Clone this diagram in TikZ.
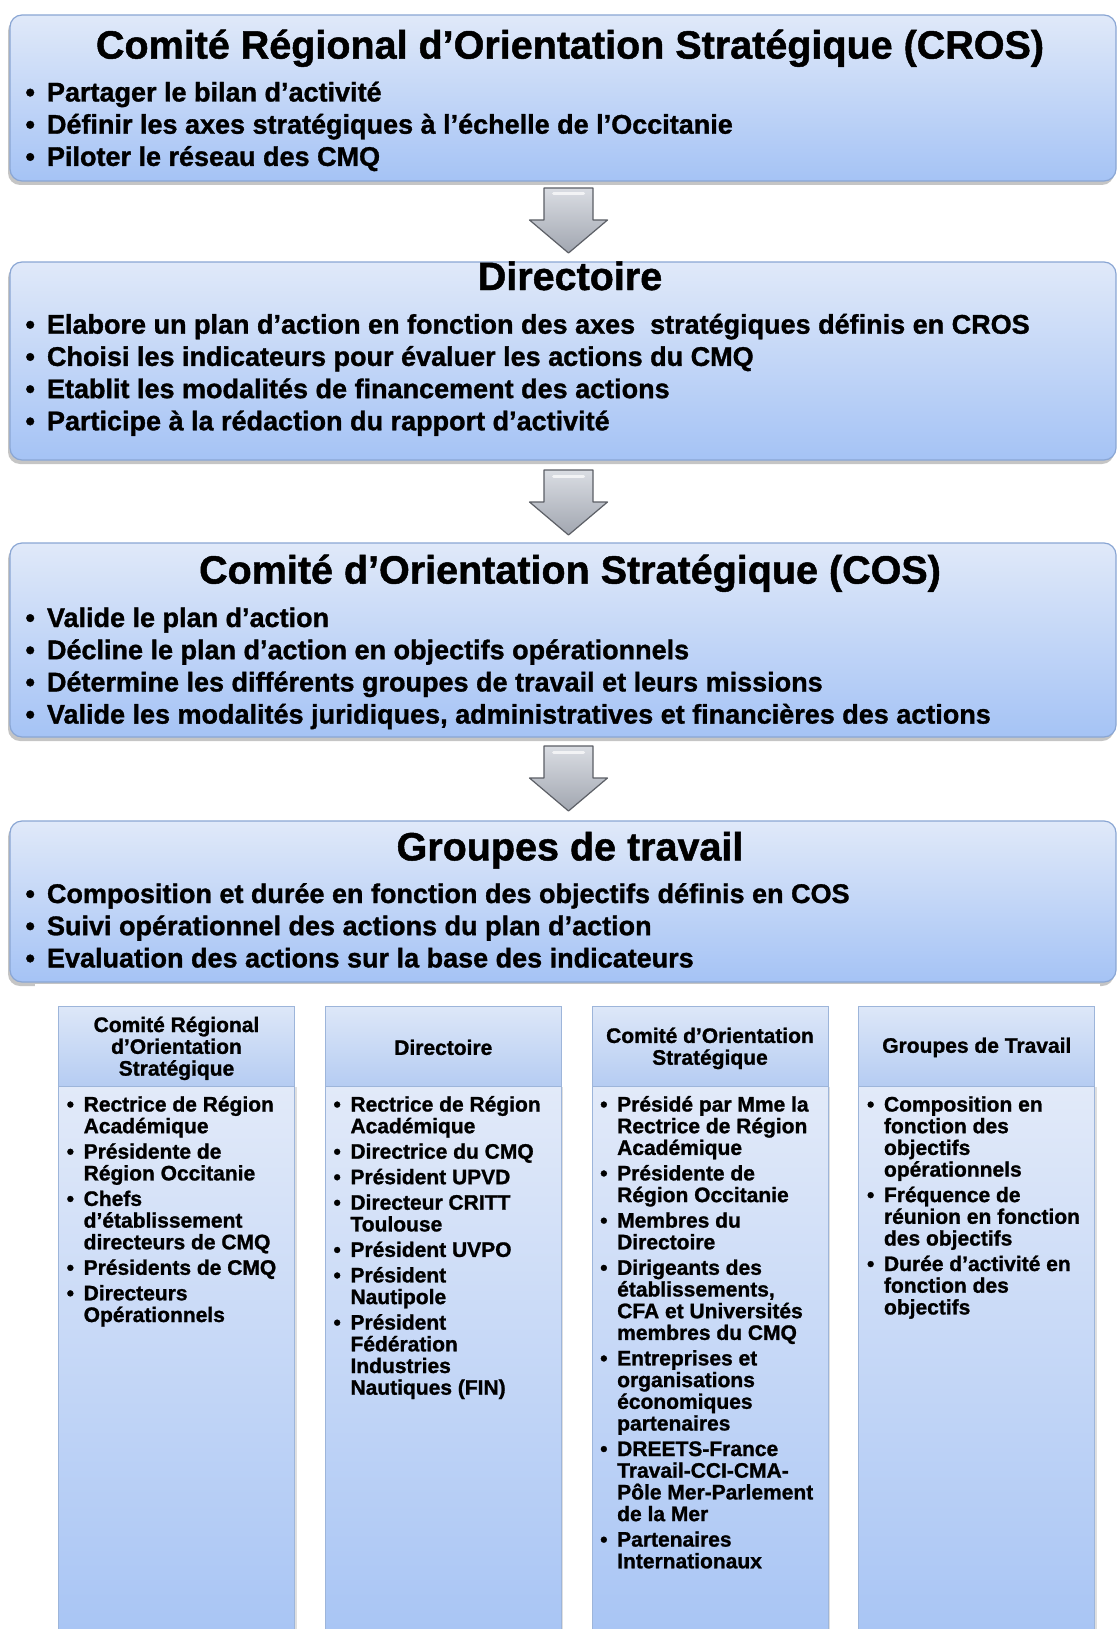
\documentclass[tikz,border=0pt]{standalone}
\usepackage{fontspec}
\setmainfont{Liberation Sans}[BoldFeatures={FakeBold=1.2}]
\usetikzlibrary{shadows}
\definecolor{boxtop}{HTML}{E0E9F9}
\definecolor{boxbot}{HTML}{A5C3F5}
\definecolor{boxline}{HTML}{8AA6D4}
\definecolor{coltop}{HTML}{E2EAF9}
\definecolor{colbot}{HTML}{A7C4F4}
\definecolor{hdtop}{HTML}{DDE7F8}
\definecolor{hdbot}{HTML}{B5CCF2}
\definecolor{colline}{HTML}{9DB5DA}
\definecolor{arrtop}{HTML}{DADDE3}
\definecolor{arrbot}{HTML}{A1A6B0}
\definecolor{arrline}{HTML}{5C5F66}
\newcommand\bl{\makebox[21.5pt][l]{\textbullet}}
\newcommand\cb{\makebox[17pt][l]{\textbullet}}
\newcommand\ci{\hspace*{17pt}}
\newcommand\ig{\\[3.8pt]}
\tikzset{
  bigbox/.style={draw=boxline, line width=1.2pt, rounded corners=12pt,
    top color=boxtop, bottom color=boxbot,
    drop shadow={shadow xshift=-2pt, shadow yshift=-4pt, opacity=0.45},
    minimum width=1106pt, anchor=north west, inner sep=0pt, outer sep=0pt},
  bigtitle/.style={font=\fontsize{39.5}{41}\selectfont\bfseries, anchor=base, inner sep=0pt},
  biglist/.style={anchor=base west, inner sep=0pt, font=\fontsize{27}{32.2}\selectfont\bfseries},
  colhead/.style={draw=colline, line width=1pt, top color=hdtop, bottom color=hdbot,
    minimum width=236pt, minimum height=79.3pt, anchor=north west, inner sep=0pt, outer sep=0pt},
  colbody/.style={draw=colline, line width=1pt, top color=coltop, bottom color=colbot,
    drop shadow={shadow xshift=2pt, shadow yshift=-1pt, opacity=0.25},
    minimum width=236pt, minimum height=560pt, anchor=north west, inner sep=0pt, outer sep=0pt},
  coltitle/.style={font=\fontsize{21}{21.8}\selectfont\bfseries, align=center, inner sep=0pt, anchor=center},
  collist/.style={anchor=base west, inner sep=0pt, font=\fontsize{21}{21.7}\selectfont\bfseries},
  blockarrow/.style={draw=arrline, line width=1.2pt, top color=arrtop, bottom color=arrbot, line join=round},
  gloss/.style={white, line width=3pt, opacity=0.7, line cap=round}
}
\begin{document}
\begin{tikzpicture}[x=1pt,y=-1pt]
\fill[white] (0,0) rectangle (1118,1629);
\useasboundingbox (0,0) rectangle (1118,1629);

% ---------- top boxes ----------
\node[bigbox, minimum height=166pt] (cros) at (10,15) {};
\node[bigtitle] (crost) at (570,58.6) {Comité Régional d’Orientation Stratégique (CROS)};
\node[biglist] (crosl) at (25.3,101.5) {\parbox[t]{1090pt}{\raggedright
\bl Partager le bilan d’activité\\
\bl Définir les axes stratégiques à l’échelle de l’Occitanie\\
\bl Piloter le réseau des CMQ}};

\node[bigbox, minimum height=198pt] (dir) at (10,262) {};
\node[bigtitle] (dirt) at (570,290) {Directoire};
\node[biglist] (dirl) at (25.3,333.7) {\parbox[t]{1090pt}{\raggedright
\bl Elabore un plan d’action en fonction des axes \ stratégiques définis en CROS\\
\bl Choisi les indicateurs pour évaluer les actions du CMQ\\
\bl Etablit les modalités de financement des actions\\
\bl Participe à la rédaction du rapport d’activité}};

\node[bigbox, minimum height=194pt] (cos) at (10,543) {};
\node[bigtitle] (cost) at (570,583.6) {Comité d’Orientation Stratégique (COS)};
\node[biglist] (cosl) at (25.3,627) {\parbox[t]{1090pt}{\raggedright
\bl Valide le plan d’action\\
\bl Décline le plan d’action en objectifs opérationnels\\
\bl Détermine les différents groupes de travail et leurs missions\\
\bl Valide les modalités juridiques, administratives et financières des actions}};

\node[bigbox, minimum height=161pt] (gt) at (10,821) {};
\node[bigtitle] (gtt) at (570,860.4) {Groupes de travail};
\node[biglist] (gtl) at (25.3,903) {\parbox[t]{1090pt}{\raggedright
\bl Composition et durée en fonction des objectifs définis en COS\\
\bl Suivi opérationnel des actions du plan d’action\\
\bl Evaluation des actions sur la base des indicateurs}};

\fill[white] (35,983.6) rectangle (1100,1003);

% ---------- block arrows ----------
\coordinate (a1) at (568.5,188);
\coordinate (a2) at (568.5,470);
\coordinate (a3) at (568.5,746);
\foreach \a in {a1,a2,a3}{
  \draw[blockarrow, shift={(\a)}] (-24.5,0) -- (24.5,0) -- (24.5,32) -- (39,32) -- (0,65) -- (-39,32) -- (-24.5,32) -- cycle;
  \draw[gloss, shift={(\a)}] (-15,6) -- (15,6);
}

% ---------- columns ----------
\foreach \n/\L in {c1/58.5,c2/325.3,c3/592,c4/858.8}{
  \node[colbody] (\n b) at (\L,1086) {};
  \node[colhead] (\n h) at (\L,1006.7) {};
}
\node[coltitle] (c1t) at ([yshift=-2pt]c1h.center) {Comité Régional\\d’Orientation\\Stratégique};
\node[coltitle] (c2t) at ([yshift=-1pt]c2h.center) {Directoire};
\node[coltitle] (c3t) at ([yshift=-2pt]c3h.center) {Comité d’Orientation\\Stratégique};
\node[coltitle] (c4t) at ([yshift=-1pt]c4h.center) {Groupes de Travail};

\node[collist] (c1l) at (66.5,1111.5) {\parbox[t]{225pt}{\raggedright
\cb Rectrice de Région\\ \ci Académique\ig
\cb Présidente de\\ \ci Région Occitanie\ig
\cb Chefs\\ \ci d’établissement\\ \ci directeurs de CMQ\ig
\cb Présidents de CMQ\ig
\cb Directeurs\\ \ci Opérationnels}};

\node[collist] (c2l) at (333.3,1111.5) {\parbox[t]{225pt}{\raggedright
\cb Rectrice de Région\\ \ci Académique\ig
\cb Directrice du CMQ\ig
\cb Président UPVD\ig
\cb Directeur CRITT\\ \ci Toulouse\ig
\cb Président UVPO\ig
\cb Président\\ \ci Nautipole\ig
\cb Président\\ \ci Fédération\\ \ci Industries\\ \ci Nautiques (FIN)}};

\node[collist] (c3l) at (600,1111.5) {\parbox[t]{225pt}{\raggedright
\cb Présidé par Mme la\\ \ci Rectrice de Région\\ \ci Académique\ig
\cb Présidente de\\ \ci Région Occitanie\ig
\cb Membres du\\ \ci Directoire\ig
\cb Dirigeants des\\ \ci établissements,\\ \ci CFA et Universités\\ \ci membres du CMQ\ig
\cb Entreprises et\\ \ci organisations\\ \ci économiques\\ \ci partenaires\ig
\cb DREETS-France\\ \ci Travail-CCI-CMA-\\ \ci Pôle Mer-Parlement\\ \ci de la Mer\ig
\cb Partenaires\\ \ci Internationaux}};

\node[collist] (c4l) at (866.8,1111.5) {\parbox[t]{225pt}{\raggedright
\cb Composition en\\ \ci fonction des\\ \ci objectifs\\ \ci opérationnels\ig
\cb Fréquence de\\ \ci réunion en fonction\\ \ci des objectifs\ig
\cb Durée d’activité en\\ \ci fonction des\\ \ci objectifs}};
\end{tikzpicture}
\end{document}
